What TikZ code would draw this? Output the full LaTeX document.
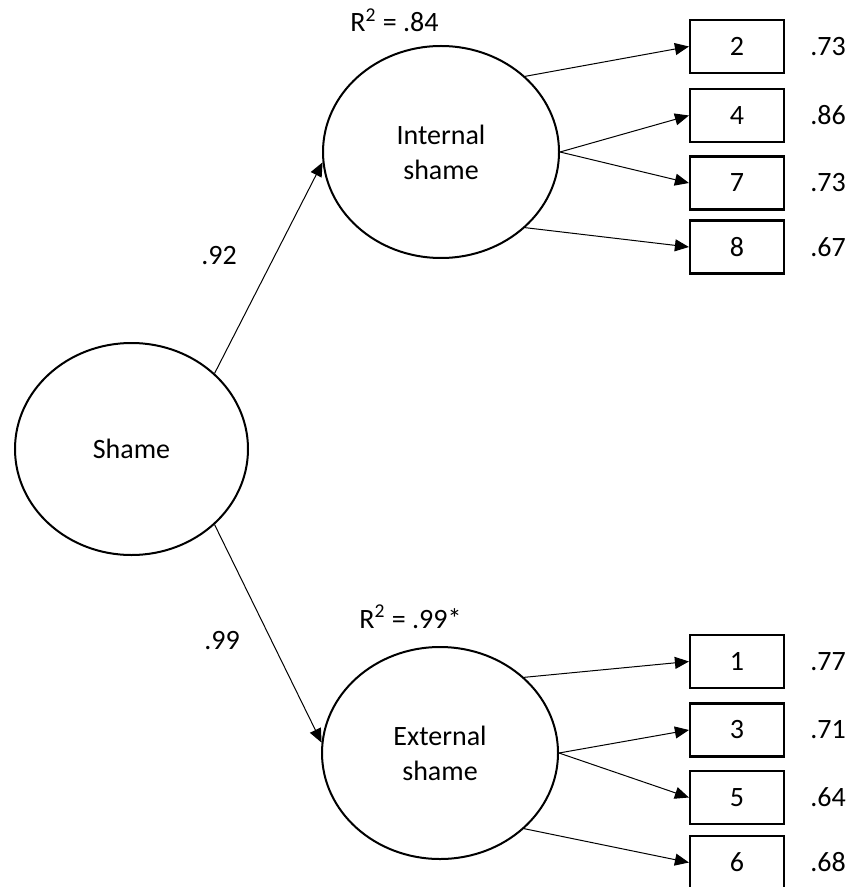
\documentclass[tikz,border=0pt]{standalone}
\usepackage{fontspec}
\setmainfont{Carlito}
\usetikzlibrary{shapes.geometric,arrows.meta}
\begin{document}
\begin{tikzpicture}[x=0.5pt,y=-0.5pt,
  every node/.style={font=\fontsize{14}{17.5}\selectfont},
  latent/.style={ellipse,draw,line width=1pt,minimum width=118pt,minimum height=106pt,inner sep=0pt,align=center},
  item/.style={rectangle,draw,line width=1.1pt,minimum width=47pt,minimum height=26.5pt,inner sep=0pt},
  conn/.style={line width=0.5pt,-{Triangle[length=7pt,width=6pt]}},
  lab/.style={inner sep=0pt}]
\useasboundingbox (0,0) rectangle (862,887);
\fill[white] (0,0) rectangle (862,887);

% latent variables
\node[latent,minimum width=116.5pt] (shame) at (131.5,449) {Shame};
\node[latent] (int) at (441,152) {Internal\\shame};
\node[latent] (ext) at (440,753) {External\\shame};

% R^2 labels
\node[lab,anchor=base] (r2int) at (394.5,32) {R\textsuperscript{2} = .84};
\node[lab,anchor=base] (r2ext) at (410.5,628) {R\textsuperscript{2} = .99*};

% items: internal
\node[item] (i2) at (737,46.5) {2};
\node[item] (i4) at (737,115.5) {4};
\node[item] (i7) at (737,183) {7};
\node[item] (i8) at (737,247) {8};
% items: external
\node[item] (i1) at (737,661.5) {1};
\node[item] (i3) at (737,730) {3};
\node[item] (i5) at (737,797.5) {5};
\node[item] (i6) at (737,862.5) {6};

% loadings
\node[lab] (v2) at (828,46.5) {.73};
\node[lab] (v4) at (828,115.5) {.86};
\node[lab] (v7) at (828,183) {.73};
\node[lab] (v8) at (828,247) {.67};
\node[lab] (v1) at (828,661.5) {.77};
\node[lab] (v3) at (828,730) {.71};
\node[lab] (v5) at (828,797.5) {.64};
\node[lab] (v6) at (828,862.5) {.68};

% second-order paths
\draw[conn] (shame.north east) -- (int.185);
\draw[conn] (shame.south east) -- (ext.175);
\node[lab] (l92) at (219,256) {.92};
\node[lab] (l99) at (222,641) {.99};

% first-order paths
\draw[conn] (int.north east) -- (i2.west);
\draw[conn] (int.east) -- (i4.west);
\draw[conn] (int.east) -- (i7.west);
\draw[conn] (int.south east) -- (i8.west);
\draw[conn] (ext.north east) -- (i1.west);
\draw[conn] (ext.east) -- (i3.west);
\draw[conn] (ext.east) -- (i5.west);
\draw[conn] (ext.south east) -- (i6.west);
\end{tikzpicture}
\end{document}
